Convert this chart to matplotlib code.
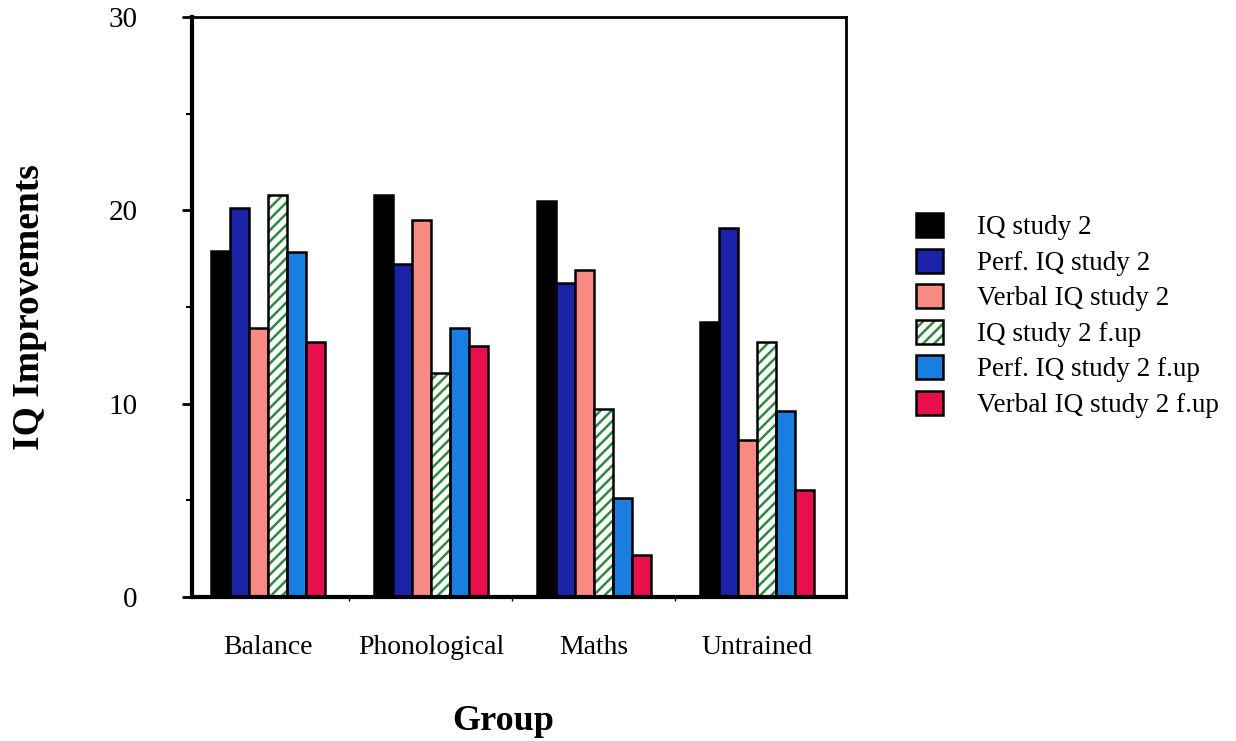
import numpy as np
import matplotlib
matplotlib.use("Agg")
import matplotlib.pyplot as plt
from matplotlib.ticker import FixedLocator, NullFormatter

# ==================== 数据 ====================
groups = ["Balance", "Phonological", "Maths", "Untrained"]
series_names = ["IQ study 2", "Perf. IQ study 2", "Verbal IQ study 2",
                "IQ study 2 f.up", "Perf. IQ study 2 f.up", "Verbal IQ study 2 f.up"]

iq_study2 = [17.9, 20.8, 20.5, 14.2]
perf_iq_study2 = [20.1, 17.2, 16.25, 19.1]
verbal_iq_study2 = [13.9, 19.5, 16.9, 8.1]
iq_study2_fup = [20.8, 11.6, 9.7, 13.2]
perf_iq_study2_fup = [17.85, 13.9, 5.1, 9.6]
verbal_iq_study2_fup = [13.2, 13.0, 2.15, 5.55]

all_series = [iq_study2, perf_iq_study2, verbal_iq_study2,
              iq_study2_fup, perf_iq_study2_fup, verbal_iq_study2_fup]

# ==================== 样式 ====================
plt.rcParams['font.family'] = ['Liberation Serif', 'DejaVu Serif']
plt.rcParams['hatch.linewidth'] = 1.8

face_colors = ["#000000", "#1a22a8", "#f88a84", "#ffffff", "#1a7ee0", "#e8104c"]
hatch_green = "#2e8b3e"
hatched = [False, False, False, True, False, False]

fig = plt.figure(figsize=(12.36, 7.41), dpi=100)
ax = fig.add_axes([192 / 1236, 1 - 597 / 741, (846 - 192) / 1236, (597 - 17) / 741])

x = np.arange(len(groups))
width = 0.117
n = len(all_series)

handles = []
for i, vals in enumerate(all_series):
    offset = (i - (n - 1) / 2) * width
    if hatched[i]:
        # 绿色斜线填充（hatch 颜色取自 edgecolor），再叠一层黑边
        h1 = ax.bar(x + offset, vals, width=width, color="white",
                    edgecolor=hatch_green, linewidth=0, hatch="///", zorder=2)
        h2 = ax.bar(x + offset, vals, width=width, fill=False,
                    edgecolor="black", linewidth=1.8, zorder=3)
        handles.append((h1.patches[0], h2.patches[0]))
    else:
        h = ax.bar(x + offset, vals, width=width, color=face_colors[i],
                   edgecolor="black", linewidth=1.8, zorder=2)
        handles.append(h.patches[0])

ax.set_xlim(-0.466, 3.546)
ax.set_ylim(0, 30)

# y 轴刻度
ax.set_yticks([0, 10, 20, 30])
ax.yaxis.set_minor_locator(FixedLocator([5, 15, 25]))
ax.tick_params(axis="y", which="major", direction="out", length=7, width=2,
               labelsize=21, pad=32)
ax.tick_params(axis="y", which="minor", direction="out", length=4, width=1.5)

# x 轴刻度：标签在组中心，小刻度在组之间
ax.set_xticks(x)
ax.set_xticklabels(groups)
ax.xaxis.set_minor_locator(FixedLocator([0.5, 1.5, 2.5]))
ax.xaxis.set_minor_formatter(NullFormatter())
ax.tick_params(axis="x", which="major", length=0, labelsize=20, pad=27)
ax.tick_params(axis="x", which="minor", direction="out", length=3, width=1)

for side in ["left", "bottom"]:
    ax.spines[side].set_linewidth(3)
for side in ["top", "right"]:
    ax.spines[side].set_linewidth(2)

ax.set_ylabel("IQ Improvements", fontsize=27, fontweight="bold")
ax.set_xlabel("Group", fontsize=26, fontweight="bold")
ax.xaxis.set_label_coords(0.476, -0.186)
ax.yaxis.set_label_coords(-0.222, 0.5)

# 图例
fig.legend(handles, series_names, loc="upper left",
           bbox_to_anchor=(916 / 1236, 1 - 213 / 741),
           frameon=False, fontsize=19.5, handlelength=1.0, handleheight=1.0,
           labelspacing=0.3, handletextpad=1.25, borderpad=0, borderaxespad=0)

fig.savefig("out.png", dpi=100)
